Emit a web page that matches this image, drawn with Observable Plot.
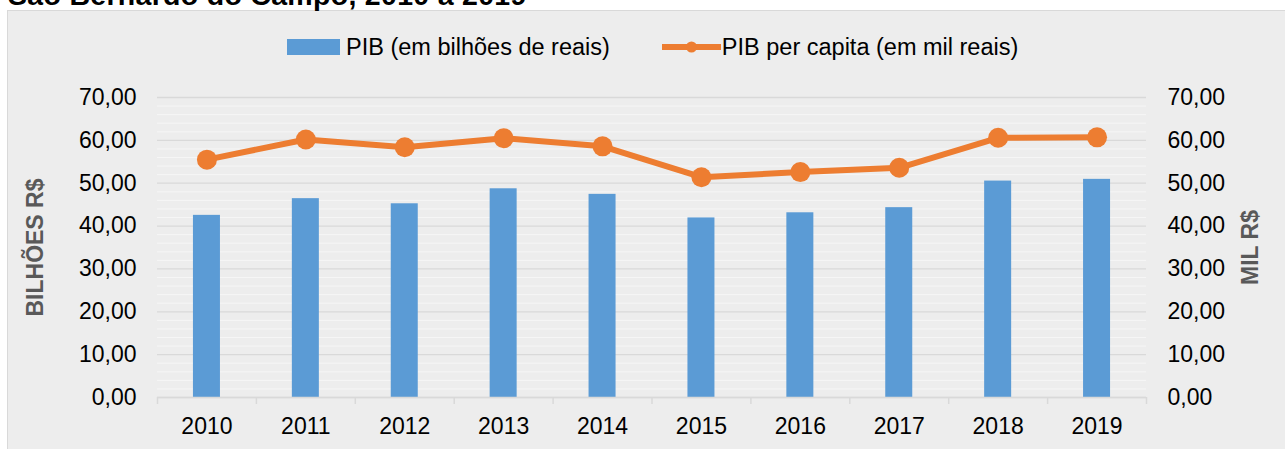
<!DOCTYPE html>
<html><head><meta charset="utf-8">
<script src="https://cdn.jsdelivr.net/npm/d3@7"></script>
<script src="https://cdn.jsdelivr.net/npm/@observablehq/plot@0.6"></script>
<style>
body{margin:0;background:#fff;font-family:"Liberation Sans",Arial,sans-serif;}
#wrap{position:relative;width:1285px;height:449px;overflow:hidden;background:#fff;}
#panel{position:absolute;left:7px;top:10px;width:1300px;height:460px;background:#ededed;border:1.5px solid #d9d9d9;box-sizing:border-box;}
#title{position:absolute;left:8px;top:-19px;font-weight:bold;font-size:28.5px;line-height:28px;letter-spacing:0.3px;color:#000;white-space:nowrap;}
#legend{position:absolute;top:33px;left:287px;height:28px;display:flex;align-items:center;font-size:23.5px;color:#000;white-space:nowrap;}
#legend .sw{display:inline-block;width:53px;height:16px;background:#5b9bd5;margin-right:6px;}
#legend svg{margin-left:52px;margin-right:1px;}
#chart{position:absolute;left:0;top:70px;}
</style></head>
<body>
<div id="wrap">
  <div id="panel"></div>
  <div id="title"></div>
  <div id="legend"></div>
  <div id="chart"></div>
</div>
<script>
const titleText = "São Bernardo do Campo, 2010 a 2019";
const years = ["2010","2011","2012","2013","2014","2015","2016","2017","2018","2019"];
const pib = [42.5, 46.4, 45.2, 48.7, 47.4, 41.9, 43.1, 44.3, 50.5, 50.9];
const pibPerCapita = [55.5, 60.2, 58.4, 60.5, 58.6, 51.4, 52.6, 53.6, 60.6, 60.7];
const yTicks = [0, 10, 20, 30, 40, 50, 60, 70];
const seriesNames = ["PIB (em bilhões de reais)", "PIB per capita (em mil reais)"];
const leftLabel = "BILHÕES R$";
const rightLabel = "MIL R$";

document.getElementById("title").textContent = titleText;
document.getElementById("legend").innerHTML =
  `<span class="sw"></span><span>${seriesNames[0]}</span>` +
  `<svg width="59" height="14"><line x1="0" x2="59" y1="7" y2="7" stroke="#ed7d31" stroke-width="6" stroke-linecap="round"/><circle cx="29.5" cy="7" r="5.5" fill="#ed7d31"/></svg>` +
  `<span>${seriesNames[1]}</span>`;

const data = years.map((year, i) => ({year, pib: pib[i], pc: pibPerCapita[i]}));
const minorTicks = d3.range(0, 70, 2).filter(v => v % 10 !== 0);
const fmt = d => d.toFixed(2).replace(".", ",");
const W = 1285, ML = 157, MR = 139;
const step = (W - ML - MR) / years.length;

const chart = Plot.plot({
  width: W, height: 379,
  marginTop: 27, marginBottom: 52, marginLeft: ML, marginRight: MR,
  style: {background: "transparent", fontFamily: "'Liberation Sans', Arial, sans-serif", fontSize: "23px", color: "#000", overflow: "visible"},
  x: {type: "band", domain: years, paddingInner: 0.727, paddingOuter: 0.3635, round: false, axis: null},
  y: {domain: [0, 70], axis: null},
  marks: [
    Plot.gridY(minorTicks, {stroke: "#f6f6f6", strokeOpacity: 1, strokeWidth: 1}),
    Plot.gridY(yTicks, {stroke: "#d9d9d9", strokeOpacity: 1, strokeWidth: 1.3}),
    Plot.barY(data, {x: "year", y: "pib", fill: "#5b9bd5"}),
    Plot.ruleY([0], {stroke: "#d9d9d9", strokeWidth: 1.5}),
    Plot.ruleX(years, {x: d => d, y1: 0, y2: 0, insetBottom: -7, dx: -step / 2, stroke: "#d9d9d9", strokeWidth: 1.5}),
    Plot.ruleX(years.slice(-1), {x: d => d, y1: 0, y2: 0, insetBottom: -7, dx: step / 2, stroke: "#d9d9d9", strokeWidth: 1.5}),
    Plot.line(data, {x: "year", y: "pc", stroke: "#ed7d31", strokeWidth: 6}),
    Plot.dot(data, {x: "year", y: "pc", r: 10, fill: "#ed7d31"}),
    Plot.axisX({tickSize: 0, tickPadding: 20, fontSize: 23, label: null}),
    Plot.axisY(yTicks, {anchor: "left", tickSize: 0, tickPadding: 21, tickFormat: fmt, fontSize: 23, label: null}),
    Plot.axisY(yTicks, {anchor: "right", tickSize: 0, tickPadding: 21, tickFormat: fmt, fontSize: 23, label: null}),
    Plot.text([leftLabel], {frameAnchor: "left", text: d => d, rotate: -90, dx: -122, textAnchor: "middle", fontWeight: "bold", fill: "#595959", fontSize: 23}),
    Plot.text([rightLabel], {frameAnchor: "right", text: d => d, rotate: -90, dx: 104, textAnchor: "middle", fontWeight: "bold", fill: "#595959", fontSize: 23})
  ]
});
document.getElementById("chart").appendChild(chart);
</script>
</body></html>
